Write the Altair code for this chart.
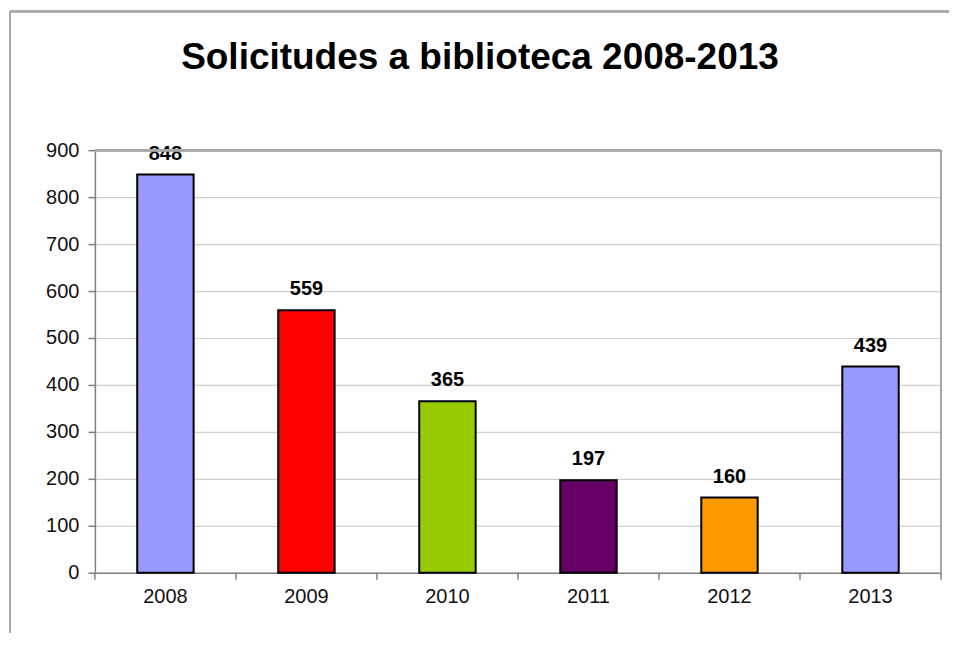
import altair as alt
import pandas as pd

years = ["2008", "2009", "2010", "2011", "2012", "2013"]
values = [848, 559, 365, 197, 160, 439]
colors = ["#9999FF", "#FF0000", "#99CC00", "#660066", "#FF9900", "#9999FF"]
y_ticks = [0, 100, 200, 300, 400, 500, 600, 700, 800, 900]

df = pd.DataFrame({"year": years, "value": values, "color": colors})

W, H = 847, 423

band = alt.Scale(paddingInner=0.6, paddingOuter=0.3)

x_enc = alt.X("year:N", sort=years, title=None, scale=band,
              axis=alt.Axis(labelAngle=0, labelFontSize=20, labelColor="#111111",
                            labelFont="Liberation Sans", labelPadding=14,
                            domainColor="#808080", domainWidth=1.5,
                            ticks=False, grid=False))
y_enc = alt.Y("value:Q", title=None,
              scale=alt.Scale(domain=[0, 900], nice=False),
              axis=alt.Axis(values=y_ticks, labelFontSize=20, labelColor="#111111",
                            labelFont="Liberation Sans", labelPadding=9,
                            domainColor="#808080", domainWidth=1.5,
                            tickColor="#808080", tickSize=7, tickWidth=1.5,
                            gridColor="#D0D0D0", gridWidth=1.2))

bars = alt.Chart(df).mark_bar(stroke="black", strokeWidth=2).encode(
    x=x_enc, y=y_enc,
    color=alt.Color("color:N", scale=None),
)

labels = alt.Chart(df).mark_text(
    fontSize=20, fontWeight="bold", font="Liberation Sans", baseline="bottom",
    dy=-11, color="black"
).encode(x=alt.X("year:N", sort=years, scale=band, axis=None),
         y=alt.Y("value:Q"),
         text="value:Q")

# category separator ticks below the x axis
sep = pd.DataFrame({"pos": [i / 6 for i in range(7)]})
sep_ticks = alt.Chart(sep).mark_rule(color="#808080", strokeWidth=1.5).encode(
    x=alt.X("pos:Q", scale=alt.Scale(domain=[0, 1]), axis=None),
    y=alt.value(H), y2=alt.value(H + 7),
)

# plot-area right and top border
border_top = alt.Chart(sep).mark_rule(color="#A8A8A8", strokeWidth=2).encode(
    x=alt.value(0), x2=alt.value(W), y=alt.value(0))
border_right = alt.Chart(sep).mark_rule(color="#A8A8A8", strokeWidth=2).encode(
    x=alt.value(W), y=alt.value(0), y2=alt.value(H))

# outer chart frame (left and top)
frame_top = alt.Chart(sep).mark_rule(color="#A8A8A8", strokeWidth=2).encode(
    x=alt.value(-85), x2=alt.value(W + 30), y=alt.value(-139))
frame_left = alt.Chart(sep).mark_rule(color="#A8A8A8", strokeWidth=2).encode(
    x=alt.value(-85), y=alt.value(-139), y2=alt.value(H + 80))

title_df = pd.DataFrame({"t": ["Solicitudes a biblioteca 2008-2013"]})
title = alt.Chart(title_df).mark_text(
    fontSize=37, fontWeight="bold", font="Liberation Sans", color="black",
    align="center", baseline="middle"
).encode(text="t:N", x=alt.value(W / 2 - 38), y=alt.value(-92))

chart = alt.layer(
    bars, labels, sep_ticks, border_top, border_right, frame_top, frame_left, title
).resolve_scale(x="independent").properties(
    width=W, height=H,
    autosize=alt.AutoSizeParams(type="none"),
    padding={"left": 87, "top": 142, "right": 8, "bottom": 60},
).configure_view(stroke=None)

chart.save("out.html", embed_options={"renderer": "svg", "actions": False})
